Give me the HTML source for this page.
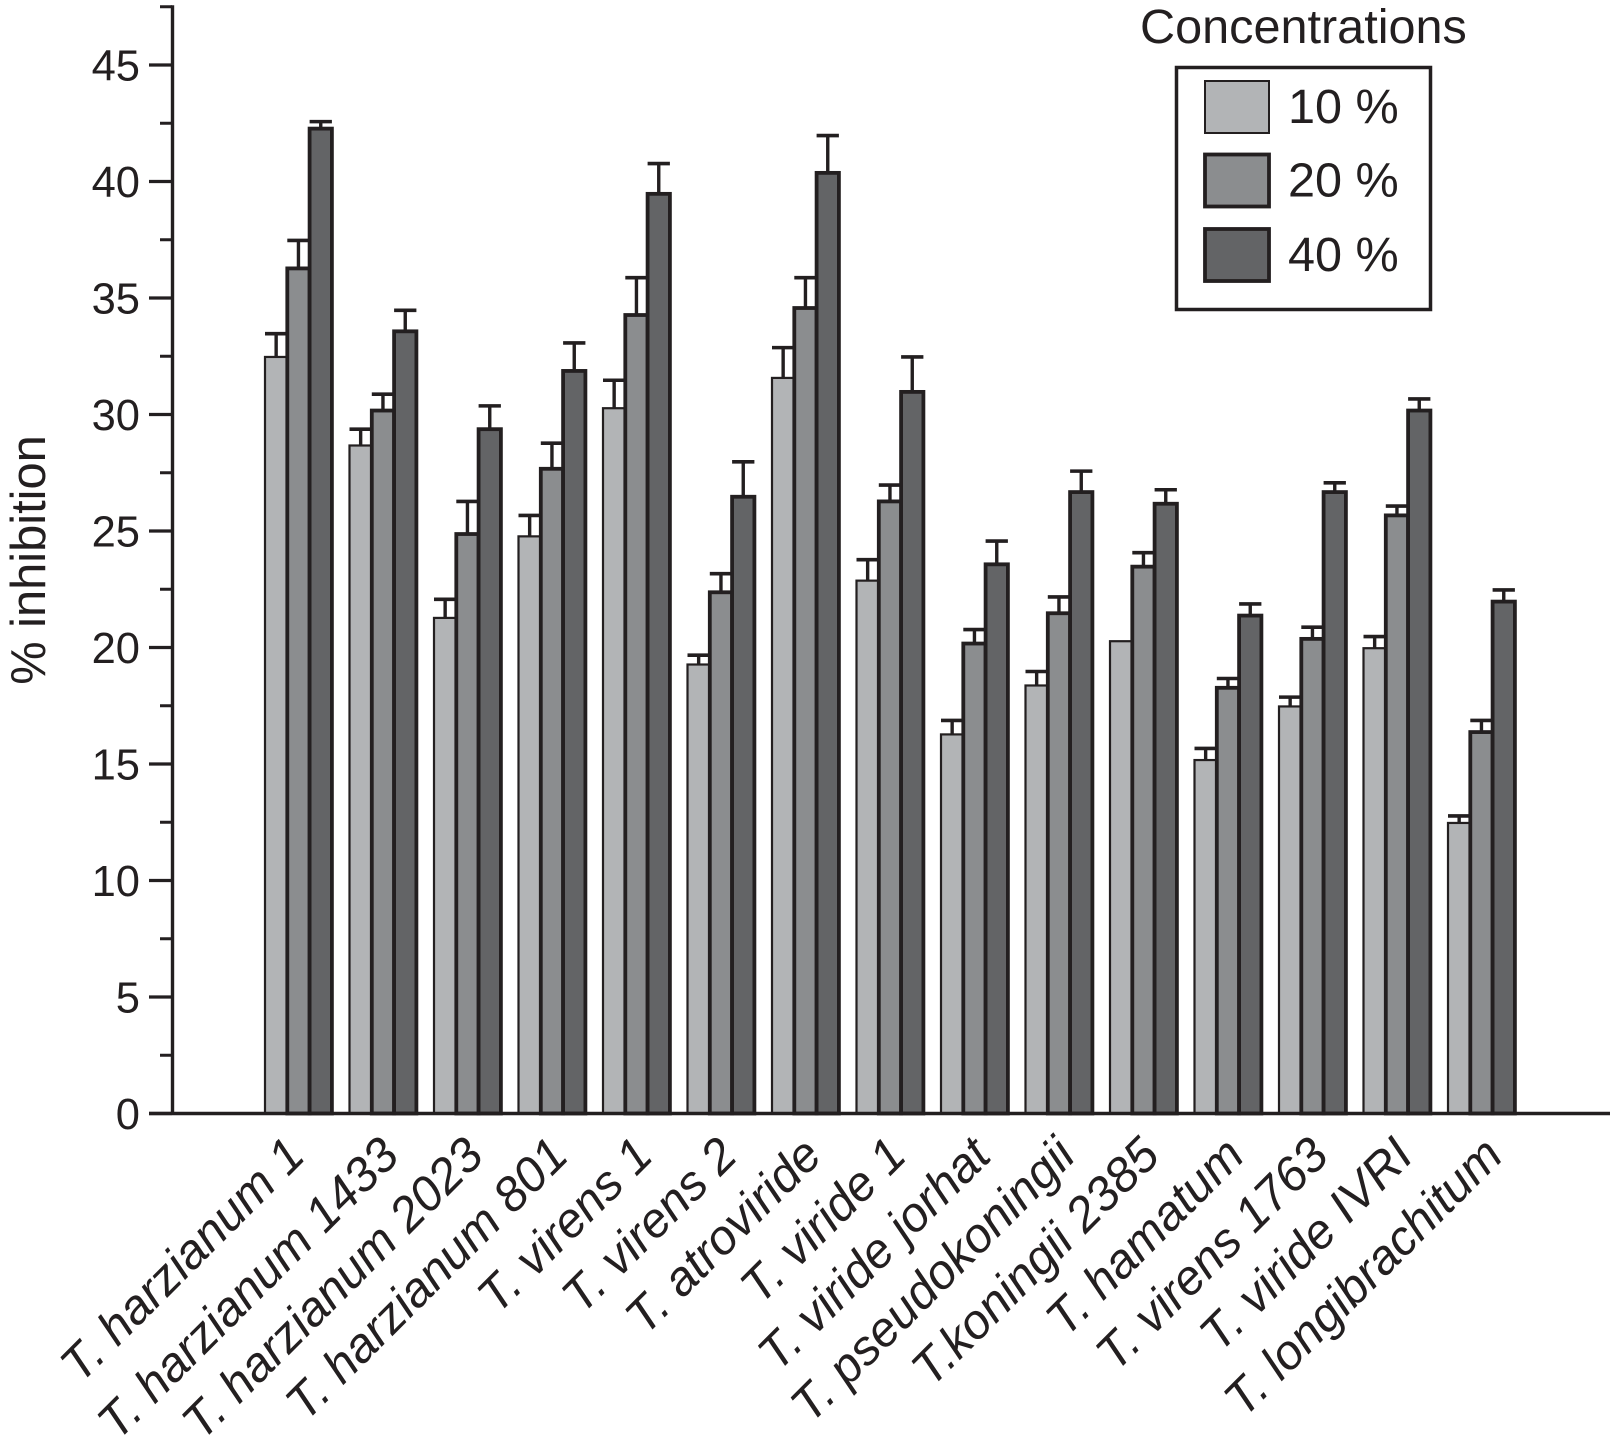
<!DOCTYPE html>
<html lang="en">
<head>
<meta charset="utf-8">
<title>% inhibition by Trichoderma strain and concentration</title>
<style>
html,body{margin:0;padding:0;background:#fff}
svg{display:block}
text{font-family:"Liberation Sans",Arial,sans-serif;fill:#231f20}
</style>
</head>
<body>
<svg id="chart" xmlns="http://www.w3.org/2000/svg" width="1610" height="1454" viewBox="0 0 1610 1454">
  <rect x="0" y="0" width="1610" height="1454" fill="#ffffff"/>
  <g id="bars"></g>
  <g id="axes"></g>
  <text transform="translate(45 560) rotate(-90)" text-anchor="middle" font-size="48.8">% inhibition</text>
  <g id="legend">
    <text x="1140" y="43" font-size="48.6">Concentrations</text>
    <rect x="1176.5" y="67.5" width="254" height="242" fill="#ffffff" stroke="#231f20" stroke-width="3.5"/>
  </g>
</svg>
<script>
const categories = ["T. harzianum 1","T. harzianum 1433","T. harzianum 2023","T. harzianum 801","T. virens 1","T. virens 2","T. atroviride","T. viride 1","T. viride jorhat","T. pseudokoningii","T.koningii 2385","T. hamatum","T. virens 1763","T. viride IVRI","T. longibrachitum"];
const seriesNames = ["10 %","20 %","40 %"];
const values10 = [32.5,28.7,21.3,24.8,30.3,19.3,31.6,22.9,16.3,18.4,20.3,15.2,17.5,20.0,12.5];
const values20 = [36.3,30.2,24.9,27.7,34.3,22.4,34.6,26.3,20.2,21.5,23.5,18.3,20.4,25.7,16.4];
const values40 = [42.3,33.6,29.4,31.9,39.5,26.5,40.4,31.0,23.6,26.7,26.2,21.4,26.7,30.2,22.0];
const errors10 = [1.0,0.7,0.8,0.9,1.2,0.4,1.3,0.9,0.6,0.6,0,0.5,0.4,0.5,0.3];
const errors20 = [1.2,0.7,1.4,1.1,1.6,0.8,1.3,0.7,0.6,0.7,0.6,0.4,0.5,0.4,0.5];
const errors40 = [0.3,0.9,1.0,1.2,1.3,1.5,1.6,1.5,1.0,0.9,0.6,0.5,0.4,0.5,0.5];
const majorTicks = [0,5,10,15,20,25,30,35,40,45];
const minorTicks = [2.5,7.5,12.5,17.5,22.5,27.5,32.5,37.5,42.5,47.5];

const INK = "#231f20";
const NS = "http://www.w3.org/2000/svg";
const seriesValues = [values10, values20, values40];
const seriesErrors = [errors10, errors20, errors40];
const seriesFills = ["#b2b4b6", "#8b8d8f", "#636466"];
const seriesStrokes = [2.2, 3.8, 3.8];
const BAR_W = 22.3;
const BAR_DROP = 0.7;

function yScale(v){ return 1113.5 - v * 23.3; }
function barY(v){ return yScale(v) + BAR_DROP; }
function groupX(i){ return 265 + i * 84.5; }
function barX(i, s){ return groupX(i) + s * BAR_W; }

function make(tag, attrs, parent){
  const el = document.createElementNS(NS, tag);
  for (const k in attrs) el.setAttribute(k, attrs[k]);
  parent.appendChild(el);
  return el;
}

const barsLayer = document.getElementById("bars");
const axesLayer = document.getElementById("axes");
const legendLayer = document.getElementById("legend");

seriesValues.forEach(function(vals, s){
  vals.forEach(function(v, i){
    const x = barX(i, s);
    const cx = x + BAR_W / 2;
    const err = seriesErrors[s][i];
    if (err > 0) {
      const stem = make("line", {x1:cx, x2:cx, y1:barY(v), y2:barY(v + err), stroke:INK, "stroke-width":3.4}, barsLayer);
      
      
      const cap = make("line", {x1:x, x2:x + BAR_W, y1:barY(v + err), y2:barY(v + err), stroke:INK, "stroke-width":3.6}, barsLayer);
      
      
    }
    const bar = make("rect", {x:x, y:barY(v), width:BAR_W, height:yScale(0) - barY(v), fill:seriesFills[s], stroke:INK, "stroke-width":seriesStrokes[s]}, barsLayer);
    
    
  });
});

const yAxisLine = make("line", {x1:172.5, x2:172.5, y1:yScale(47.5) - 1.5, y2:yScale(0), stroke:INK, "stroke-width":3.4}, axesLayer);



const xAxisLine = make("line", {x1:149, x2:1610, y1:yScale(0), y2:yScale(0), stroke:INK, "stroke-width":3.6}, axesLayer);



majorTicks.forEach(function(t){
  const tick = make("line", {x1:149, x2:172, y1:yScale(t), y2:yScale(t), stroke:INK, "stroke-width":3.2}, axesLayer);
  
  
  const label = make("text", {x:140, y:yScale(t) + 15.5, "text-anchor":"end", "font-size":43.5}, axesLayer);
  
  
  label.textContent = String(t);
});

minorTicks.forEach(function(t){
  const tick = make("line", {x1:160, x2:172, y1:yScale(t), y2:yScale(t), stroke:INK, "stroke-width":3}, axesLayer);
  
  
});

categories.forEach(function(name, i){
  const cx = groupX(i) + 33;
  let ax = cx + 19;
  if (i === 0) ax -= 10;
  if (i === categories.length - 1) ax += 5;
  const ay = 1158;
  const label = make("text", {transform:"translate(" + ax + " " + ay + ") rotate(-45)", "text-anchor":"end", "font-size":48.7, "font-style":"italic"}, axesLayer);
  
  
  label.textContent = name;
});

const swatchY = [81, 154.5, 229];
const legendBaseY = [123, 196.5, 271];
seriesNames.forEach(function(name, s){
  const sw = make("rect", {x:1205, y:swatchY[s], width:64, height:52, fill:seriesFills[s], stroke:INK, "stroke-width":s === 0 ? 2 : 3.8}, legendLayer);
  
  
  const tx = make("text", {x:1288, y:legendBaseY[s], "font-size":48.6}, legendLayer);
  
  
  tx.textContent = name;
});
</script>
</body>
</html>
